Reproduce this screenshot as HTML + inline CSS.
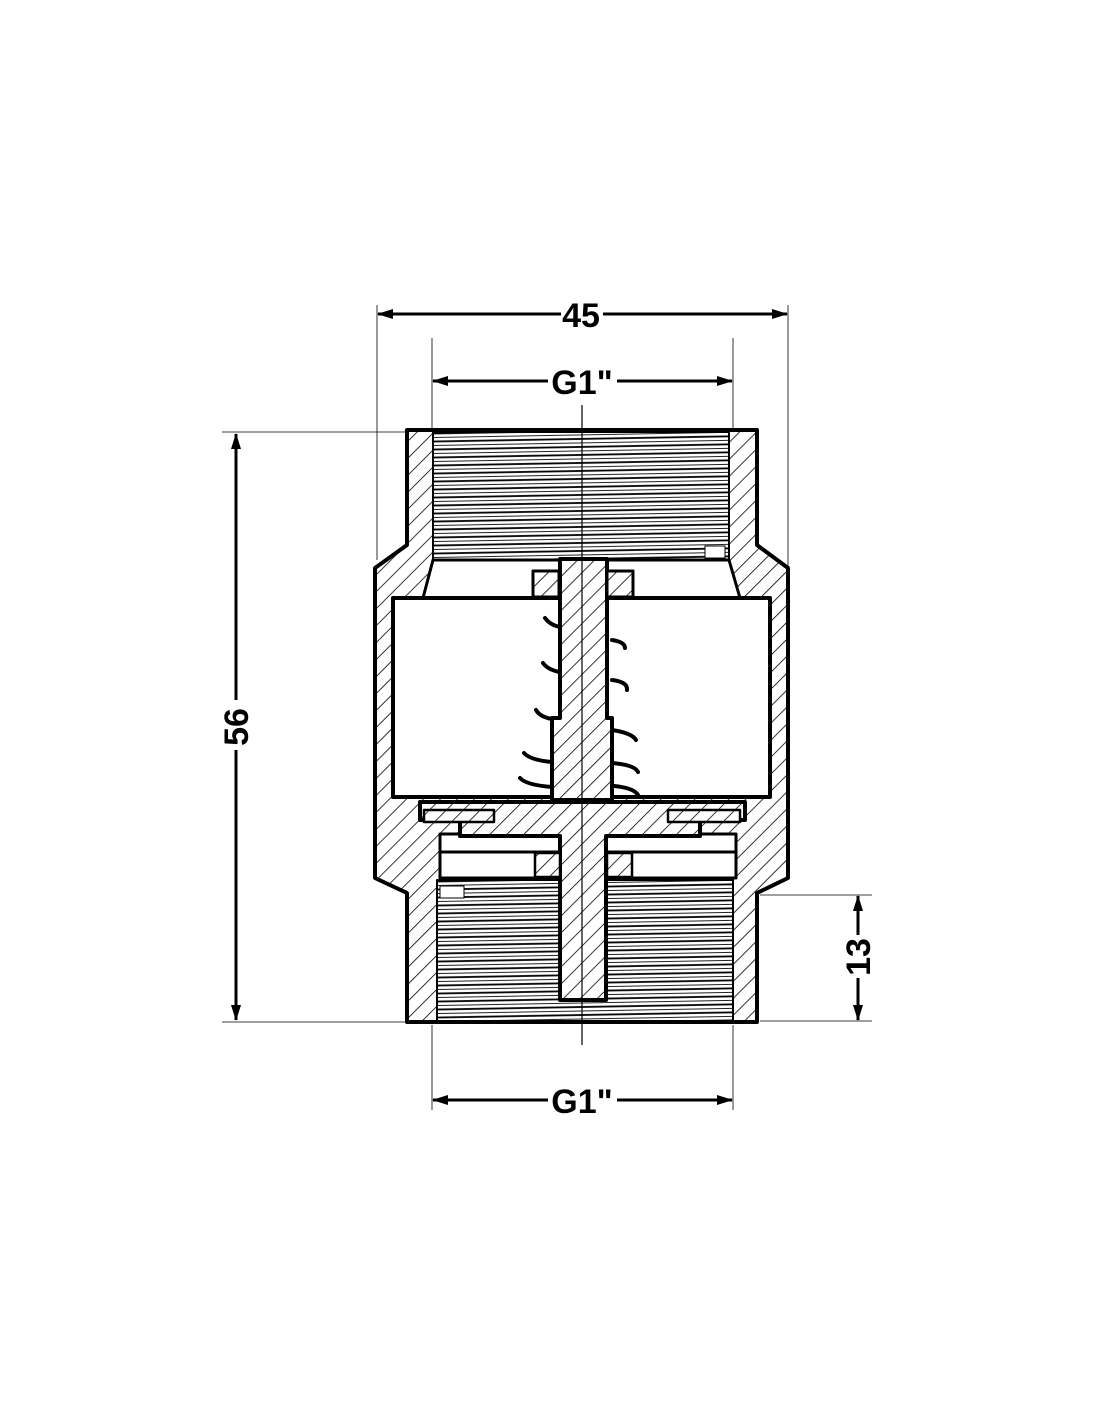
<!DOCTYPE html>
<html><head><meta charset="utf-8"><style>
html,body{margin:0;padding:0;background:#fff;}
svg{display:block;}
text{font-family:"Liberation Sans",sans-serif;font-weight:bold;font-size:34px;fill:#000;}
</style></head><body>
<svg width="1100" height="1422" viewBox="0 0 1100 1422" xmlns="http://www.w3.org/2000/svg">
<defs>
<pattern id="h" width="12" height="12" patternUnits="userSpaceOnUse" patternTransform="rotate(45)">
<rect width="12" height="12" fill="#fff"/><line x1="0" y1="0" x2="0" y2="12" stroke="#000" stroke-width="1.6"/>
</pattern>
<pattern id="t" width="10" height="8" patternUnits="userSpaceOnUse" patternTransform="rotate(-1)">
<rect width="10" height="8" fill="#fff"/><line x1="0" y1="1" x2="10" y2="1" stroke="#000" stroke-width="1.8"/><line x1="0" y1="5" x2="10" y2="5" stroke="#222" stroke-width="1"/>
</pattern>
<marker id="a" markerWidth="16" markerHeight="10" refX="15" refY="5" orient="auto" markerUnits="userSpaceOnUse"><path d="M0,0 L16,5 L0,10 Z"/></marker>
</defs>
<g stroke="#000" fill="none" stroke-width="0.8">
<line x1="377" y1="305" x2="377" y2="560"/><line x1="788" y1="305" x2="788" y2="570"/>
<line x1="432" y1="338" x2="432" y2="430"/><line x1="733" y1="338" x2="733" y2="430"/>
<line x1="222" y1="432" x2="405" y2="432"/><line x1="222" y1="1022" x2="405" y2="1022"/>
<line x1="760" y1="895" x2="872" y2="895"/><line x1="760" y1="1021" x2="872" y2="1021"/>
<line x1="432" y1="1025" x2="432" y2="1110"/><line x1="733" y1="1025" x2="733" y2="1110"/>
</g>
<g stroke="#000" stroke-width="3" fill="none">
<line x1="561" y1="314" x2="378" y2="314" marker-end="url(#a)"/>
<line x1="603" y1="314" x2="787" y2="314" marker-end="url(#a)"/>
<line x1="548" y1="381" x2="433" y2="381" marker-end="url(#a)"/>
<line x1="617" y1="381" x2="732" y2="381" marker-end="url(#a)"/>
<line x1="548" y1="1100" x2="433" y2="1100" marker-end="url(#a)"/>
<line x1="617" y1="1100" x2="732" y2="1100" marker-end="url(#a)"/>
<line x1="236" y1="700" x2="236" y2="434" marker-end="url(#a)"/>
<line x1="236" y1="750" x2="236" y2="1020" marker-end="url(#a)"/>
<line x1="858" y1="935" x2="858" y2="896" marker-end="url(#a)"/>
<line x1="858" y1="978" x2="858" y2="1020" marker-end="url(#a)"/>
</g>
<text x="581" y="327" text-anchor="middle">45</text>
<text x="582" y="394" text-anchor="middle">G1"</text>
<text x="582" y="1113" text-anchor="middle">G1"</text>
<text transform="translate(248 727) rotate(-90)" text-anchor="middle">56</text>
<text transform="translate(870 957) rotate(-90)" text-anchor="middle">13</text>

<g stroke="#000" stroke-width="4" stroke-linejoin="round">
<path fill="url(#h)" d="M407,430 L757,430 L757,545 L788,568 L788,878 L757,893 L757,1022 L407,1022 L407,893 L375,878 L375,568 L407,545 Z"/>
<rect x="433" y="432" width="296" height="128" fill="url(#t)" stroke-width="2"/>
<rect x="437" y="880" width="296" height="141" fill="url(#t)" stroke-width="2"/>
<path fill="#fff" d="M433,560 L729,560 L740,598 L423,598 Z" stroke-width="3"/>
<rect x="393" y="598" width="377" height="199" fill="#fff"/>
<rect x="440" y="852" width="296" height="26" fill="#fff" stroke-width="3"/>
<rect x="440" y="834" width="296" height="18" fill="#fff" stroke-width="3"/>
<path fill="url(#h)" d="M420,802 L745,802 L745,820 L700,820 L700,836 L606,836 L606,1000 L560,1000 L560,836 L460,836 L460,820 L420,820 Z"/>
<rect x="424" y="810" width="70" height="12" fill="url(#h)" stroke-width="2.5"/>
<rect x="668" y="810" width="72" height="12" fill="url(#h)" stroke-width="2.5"/>
<path fill="url(#h)" d="M560,559 L607,559 L607,718 L612,718 L612,800 L552,800 L552,718 L560,718 Z"/>
<rect x="533" y="571" width="26" height="26" fill="url(#h)" stroke-width="3"/>
<rect x="607" y="571" width="26" height="26" fill="url(#h)" stroke-width="3"/>
<rect x="535" y="853" width="25" height="24" fill="url(#h)" stroke-width="2.5"/>
<rect x="607" y="853" width="25" height="24" fill="url(#h)" stroke-width="2.5"/>
</g>
<g stroke="#000" stroke-width="4" fill="none" stroke-linecap="round">
<path d="M545,618 Q550,625 560,627"/><path d="M543,663 Q548,670 560,672"/>
<path d="M536,710 Q540,717 552,719"/><path d="M524,753 Q530,760 552,762"/>
<path d="M520,778 Q526,785 552,787"/>
<path d="M612,640 Q625,642 625,648"/><path d="M612,680 Q628,682 627,690"/>
<path d="M612,730 Q632,733 636,740"/><path d="M612,763 Q635,765 638,772"/>
<path d="M614,786 Q634,788 638,795"/>
</g>
<rect x="705" y="546" width="20" height="12" fill="#fff" stroke="#000" stroke-width="1"/>
<rect x="440" y="886" width="24" height="12" fill="#fff" stroke="#000" stroke-width="1"/>
<line x1="582" y1="405" x2="582" y2="1045" stroke="#000" stroke-width="1.2"/>
</svg>
</body></html>
